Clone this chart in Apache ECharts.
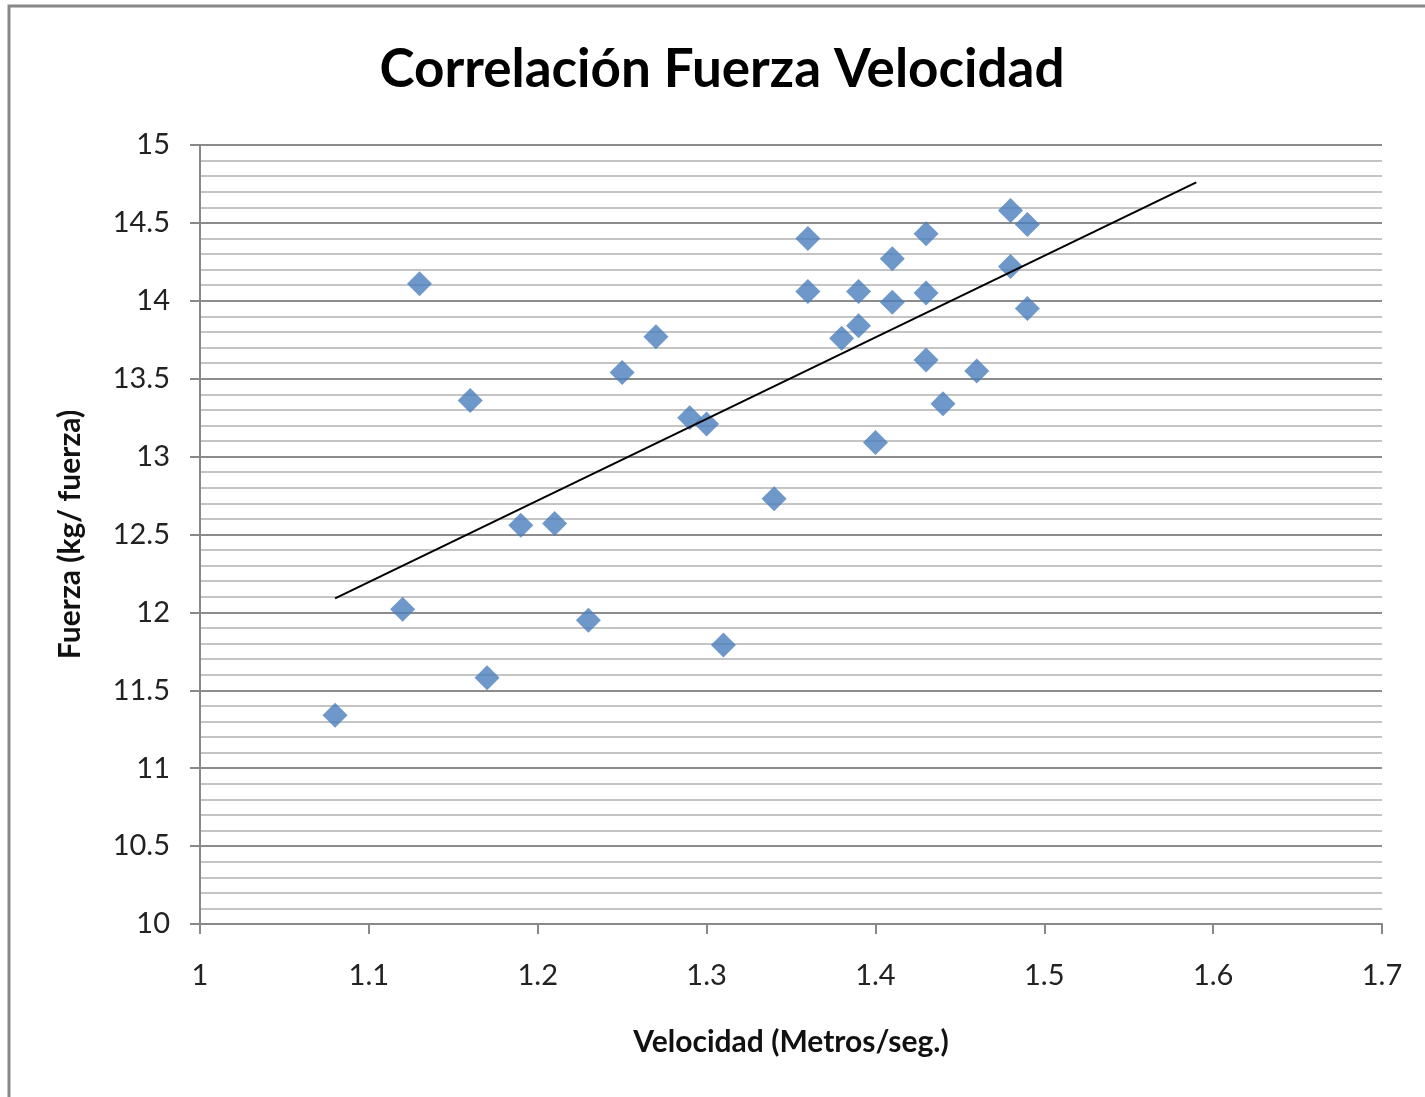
<!DOCTYPE html>
<html>
<head>
<meta charset="utf-8">
<script src="https://cdn.jsdelivr.net/npm/echarts@6/dist/echarts.min.js"></script>
<style>
html,body{margin:0;padding:0;background:#fff;}
#chart{width:1425px;height:1097px;}
</style>
</head>
<body>
<div id="chart"></div>
<script>
// Data
var velocidad = [1.08, 1.12, 1.13, 1.16, 1.17, 1.19, 1.21, 1.23, 1.25, 1.27, 1.29, 1.30, 1.31, 1.34, 1.36, 1.36, 1.38, 1.39, 1.39, 1.40, 1.41, 1.41, 1.43, 1.43, 1.43, 1.44, 1.46, 1.48, 1.48, 1.49, 1.49];
var fuerza    = [11.34, 12.02, 14.11, 13.36, 11.58, 12.56, 12.57, 11.95, 13.54, 13.77, 13.25, 13.21, 11.79, 12.73, 14.40, 14.06, 13.76, 14.06, 13.84, 13.09, 14.27, 13.99, 14.43, 14.05, 13.62, 13.34, 13.55, 14.58, 14.22, 14.49, 13.95];
var trendX = [1.08, 1.59];
var trendY = [12.09, 14.76];
var titleText = 'Correlación Fuerza Velocidad';
var xName = 'Velocidad (Metros/seg.)';
var yName = 'Fuerza (kg/ fuerza)';

var points = velocidad.map(function (v, i) { return [v, fuerza[i]]; });
var trend = trendX.map(function (v, i) { return [v, trendY[i]]; });

var FONT = 'Lato';
var chart = echarts.init(document.getElementById('chart'), null, {renderer: 'canvas'});
chart.setOption({
  backgroundColor: '#ffffff',
  animation: false,
  graphic: [
    {type: 'rect', shape: {x: 9, y: 6, width: 1430, height: 1110}, style: {fill: 'none', stroke: '#888888', lineWidth: 3}, z: -1},
    {type: 'text', x: 722, y: 70, style: {text: titleText, fill: '#000', font: 'bold 53px ' + FONT, textAlign: 'center', textVerticalAlign: 'middle'}}
  ],
  grid: {left: 200, right: 43, top: 145, bottom: 173},
  xAxis: {
    type: 'value', min: 1, max: 1.7, interval: 0.1,
    name: xName, nameLocation: 'middle', nameGap: 103,
    nameTextStyle: {fontFamily: FONT, fontWeight: 'bold', fontSize: 30, color: '#111'},
    axisLine: {show: true, onZero: false, lineStyle: {color: '#888888', width: 2}},
    axisTick: {show: true, length: 10, lineStyle: {color: '#888888', width: 2}},
    axisLabel: {fontFamily: FONT, fontSize: 29, color: '#222', margin: 37, formatter: function (v) { return String(Math.round(v * 10) / 10); }},
    splitLine: {show: false}
  },
  yAxis: {
    type: 'value', min: 10, max: 15, interval: 0.5,
    name: yName, nameLocation: 'middle', nameGap: 115, nameRotate: 90,
    nameTextStyle: {fontFamily: FONT, fontWeight: 'bold', fontSize: 30, color: '#111'},
    axisLine: {show: true, onZero: false, lineStyle: {color: '#888888', width: 2}},
    axisTick: {show: true, length: 10, lineStyle: {color: '#888888', width: 2}},
    axisLabel: {fontFamily: FONT, fontSize: 29, color: '#222', margin: 30},
    splitLine: {show: true, lineStyle: {color: '#8c8c8c', width: 2}},
    minorTick: {show: false, splitNumber: 5},
    minorSplitLine: {show: true, lineStyle: {color: '#c4c4c4', width: 2}}
  },
  series: [
    {
      type: 'scatter', data: points, symbol: 'diamond', symbolSize: 25,
      itemStyle: {color: '#4a7dbd'}, z: 3
    },
    {
      type: 'line', data: trend, symbol: 'none', lineStyle: {color: '#000', width: 2}, z: 4
    }
  ]
});
</script>
</body>
</html>
